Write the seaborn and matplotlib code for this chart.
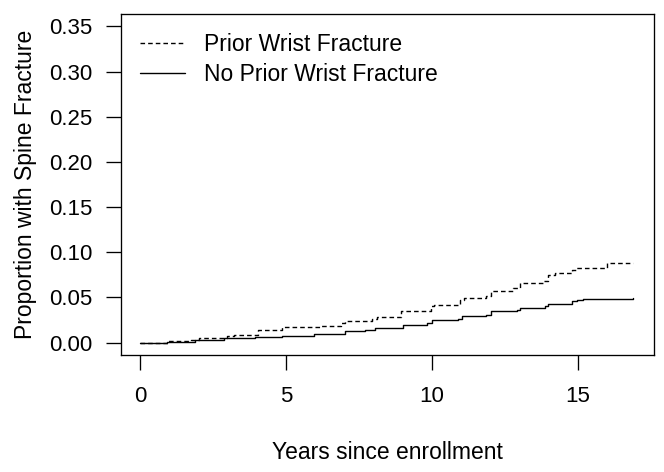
import numpy as np
import pandas as pd
import matplotlib
matplotlib.use("Agg")
import matplotlib.pyplot as plt
import seaborn as sns

# Cumulative incidence of spine fracture (step curves)
prior_years = [0, 0.95, 1.75, 2.04, 2.99, 3.23, 4.05, 4.88, 6.18, 6.89, 7.01,
               7.96, 8.13, 8.96, 9.96, 10.08, 10.97, 11.09, 11.86, 12.03,
               12.80, 13.04, 13.81, 13.98, 14.22, 14.81, 14.93, 15.99, 16.9]
prior_prop = [0, 0.0015, 0.0033, 0.0055, 0.0070, 0.0088, 0.0144, 0.0173,
              0.0188, 0.0217, 0.0236, 0.0261, 0.0283, 0.0346, 0.0401, 0.0416,
              0.0475, 0.0493, 0.0519, 0.0567, 0.0604, 0.0659, 0.0677, 0.0751,
              0.0769, 0.0806, 0.0824, 0.0880, 0.0880]

noprior_years = [0, 0.92, 1.87, 2.87, 3.94, 4.88, 5.95, 7.01, 7.72, 8.07,
                 9.02, 9.85, 10.02, 10.91, 11.03, 11.86, 12.03, 12.92, 13.04,
                 13.87, 13.98, 14.81, 14.99, 15.17, 16.9]
noprior_prop = [0, 0.0010, 0.0033, 0.0048, 0.0063, 0.0077, 0.0099, 0.0125,
                0.0144, 0.0162, 0.0199, 0.0217, 0.0247, 0.0261, 0.0291,
                0.0305, 0.0346, 0.0357, 0.0383, 0.0409, 0.0431, 0.0456,
                0.0475, 0.0486, 0.0493]

x_ticks = [0, 5, 10, 15]
y_ticks = [0.00, 0.05, 0.10, 0.15, 0.20, 0.25, 0.30, 0.35]

sns.set_style("ticks")
plt.rcParams["font.family"] = ["Liberation Sans", "DejaVu Sans"]
plt.rcParams["text.color"] = "black"
plt.rcParams["axes.labelcolor"] = "black"

FS = 16

fig = plt.figure(figsize=(6.64, 4.72), dpi=100)
ax = fig.add_axes([0.1818, 0.2489, 0.8024, 0.7214])

sns.lineplot(x=prior_years, y=prior_prop, ax=ax, color="black",
             linewidth=1.0, linestyle=(0, (3.3, 2.2)), drawstyle="steps-post",
             estimator=None, label="Prior Wrist Fracture")
sns.lineplot(x=noprior_years, y=noprior_prop, ax=ax, color="black",
             linewidth=1.0, drawstyle="steps-post",
             estimator=None, label="No Prior Wrist Fracture")

ax.set_xlim(-0.66, 17.60)
ax.set_ylim(-0.0131, 0.3636)
ax.set_xticks(x_ticks)
ax.set_xticklabels([str(t) for t in x_ticks])
ax.set_yticks(y_ticks)
ax.set_yticklabels([f"{t:.2f}" for t in y_ticks])

for side in ["left", "right", "top", "bottom"]:
    ax.spines[side].set_visible(True)
    ax.spines[side].set_linewidth(0.95)
    ax.spines[side].set_color("black")

ax.tick_params(axis="both", direction="out", length=10.5, width=0.95,
               colors="black", labelsize=FS)
ax.tick_params(axis="y", pad=10)
ax.tick_params(axis="x", pad=12)

ax.set_xlabel("Years since enrollment", fontsize=FS + 0.5, va="center")
ax.xaxis.set_label_coords(0.5, -0.289)
ax.set_ylabel("Proportion with Spine Fracture", fontsize=FS + 0.5, va="center")
ax.yaxis.set_label_coords(-0.1796, 0.5)

ax.legend(loc="upper left", bbox_to_anchor=(0.015, 0.977), frameon=False,
          fontsize=FS + 0.5, handlelength=1.95, handletextpad=0.85,
          labelspacing=0.28, borderpad=0.0)

fig.savefig("out.png", dpi=100)
